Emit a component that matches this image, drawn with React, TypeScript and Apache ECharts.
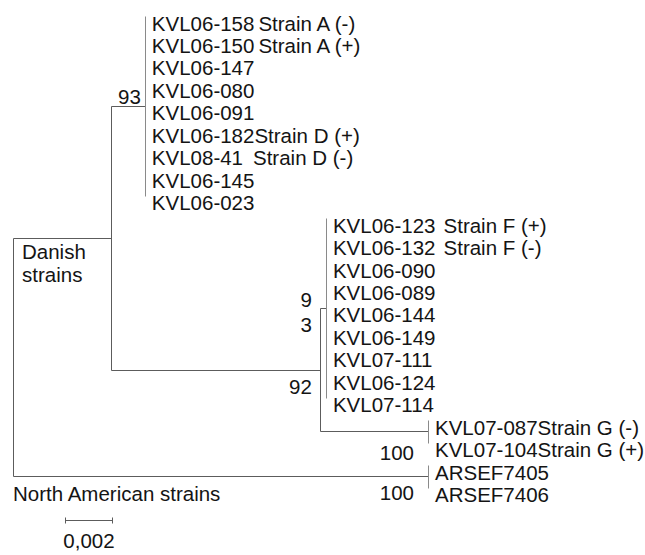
import React, { useEffect, useRef } from "react";
import * as echarts from "echarts";

// ---------- DATA ----------
// internal nodes of the tree (branch length in substitutions/site)
const nodeNames = ["root", "Danish", "A", "FG", "F", "G", "NA"];
const nodeParents: (string | null)[] = [null, "root", "Danish", "Danish", "FG", "FG", "root"];
const nodeLengths = [0, 0.00421, 0.00146, 0.00899, 0.00026, 0.00465, 0.01785];
const nodeSupport = ["", "", "93", "92", "9\n3", "100", "100"];

// tips (leaves), top to bottom
const tipNames = [
  "KVL06-158", "KVL06-150", "KVL06-147", "KVL06-080", "KVL06-091", "KVL06-182", "KVL08-41", "KVL06-145", "KVL06-023",
  "KVL06-123", "KVL06-132", "KVL06-090", "KVL06-089", "KVL06-144", "KVL06-149", "KVL07-111", "KVL06-124", "KVL07-114",
  "KVL07-087", "KVL07-104", "ARSEF7405", "ARSEF7406",
];
const tipParents = [
  "A", "A", "A", "A", "A", "A", "A", "A", "A",
  "F", "F", "F", "F", "F", "F", "F", "F", "F",
  "G", "G", "NA", "NA",
];
const tipLengths = tipNames.map(() => 0);
const tipNotes = [
  "Strain A (-)", "Strain A (+)", "", "", "", "Strain D (+)", "Strain D (-)", "", "",
  "Strain F (+)", "Strain F (-)", "", "", "", "", "", "", "",
  "Strain G (-)", "Strain G (+)", "", "",
];

const cladeLabelNodes = ["Danish", "NA"];
const cladeLabelTexts = ["Danish\nstrains", "North American strains"];

const scaleBarLength = 0.002;
const scaleBarText = "0,002";

// ---------- STYLE / LAYOUT ----------
const FONT = "Liberation Sans, Arial, Helvetica, sans-serif";
const TEXT_COLOR = "#141414";
const LINE_COLOR = "#5c5c5c";
const TIP_LINE_COLOR = "#8a8a8a";
const FONT_SIZE = 20.5;
const X_MAX = 0.026;
const Y_MAX = 24;
const PX_PER_UNIT = 23250;
const ROW_PX = 22.7;
const SCALE_BAR_X = 0.00224;
const SCALE_BAR_ROW = 22.45;

// gap (px) between tip name and its strain note
const noteGap: Record<string, number> = {
  "KVL06-158": 4, "KVL06-150": 4, "KVL06-182": 0, "KVL08-41": 10,
  "KVL06-123": 8, "KVL06-132": 8, "KVL07-087": 0, "KVL07-104": 0,
};
// support label placement relative to node (px)
const supportOffset: Record<string, [number, number]> = {
  A: [-4, -9], F: [-14, 4.5], FG: [-8, 17], G: [-14, 21], NA: [-14, 16],
};
const cladeOffset: Record<string, { dx: number; dy: number; fromParent: boolean; va: string }> = {
  Danish: { dx: 9, dy: 2, fromParent: true, va: "top" },
  NA: { dx: 0, dy: 17, fromParent: true, va: "middle" },
};

// ---------- LAYOUT COMPUTATION ----------
type P = { x: number; y: number; parent: string | null };
function computeLayout() {
  const pos: Record<string, P> = {};
  const children: Record<string, string[]> = {};
  nodeNames.forEach((n, i) => {
    const p = nodeParents[i];
    if (p) (children[p] = children[p] || []).push(n);
  });
  tipNames.forEach((t, i) => {
    (children[tipParents[i]] = children[tipParents[i]] || []).push(t);
  });
  const lenOf: Record<string, number> = {};
  const parentOf: Record<string, string | null> = {};
  nodeNames.forEach((n, i) => { lenOf[n] = nodeLengths[i]; parentOf[n] = nodeParents[i]; });
  tipNames.forEach((t, i) => { lenOf[t] = tipLengths[i]; parentOf[t] = tipParents[i]; });
  const tipIndex: Record<string, number> = {};
  tipNames.forEach((t, i) => (tipIndex[t] = i));
  const place = (n: string, px: number) => {
    const x = px + lenOf[n];
    let y: number;
    if (n in tipIndex) y = tipIndex[n];
    else {
      const ys = (children[n] || []).map((c) => place(c, x));
      y = (Math.min(...ys) + Math.max(...ys)) / 2;
    }
    pos[n] = { x, y, parent: parentOf[n] };
    return y;
  };
  place("root", 0);
  const edges: { seg: number[]; tip: boolean }[] = [];
  Object.keys(pos).forEach((n) => {
    const p = pos[n];
    if (p.parent) {
      const pp = pos[p.parent];
      if (p.x - pp.x > 1e-9) edges.push({ seg: [pp.x, p.y, p.x, p.y], tip: false });
    }
    const ch = children[n];
    if (ch && ch.length) {
      const ys = ch.map((c) => pos[c].y);
      const allTips = ch.every((c) => c in tipIndex);
      edges.push({ seg: [p.x, Math.min(...ys), p.x, Math.max(...ys)], tip: allTips });
    }
  });
  return { pos, edges };
}

export default function App() {
  const ref = useRef<HTMLDivElement>(null);
  useEffect(() => {
    if (!ref.current) return;
    const chart = echarts.init(ref.current, null, { renderer: "svg" });
    const { pos, edges } = computeLayout();

    const edgeData = edges.map((e) => ({ value: e.seg, tip: e.tip }));
    const tipData = tipNames.map((t, i) => [pos[t].x, pos[t].y, i]);
    const supportData = nodeNames
      .map((n, i) => [pos[n].x, pos[n].y, i])
      .filter((d) => nodeSupport[d[2]] !== "");
    const cladeData = cladeLabelNodes.map((n, i) => {
      const o = cladeOffset[n];
      const ref = o.fromParent && pos[n].parent ? pos[pos[n].parent as string] : pos[n];
      return [ref.x, pos[n].y, i];
    });

    const gridWidth = X_MAX * PX_PER_UNIT;
    const gridHeight = Y_MAX * ROW_PX;

    chart.setOption({
      animation: false,
      backgroundColor: "#ffffff",
      grid: { left: 13, top: 16, width: gridWidth, height: gridHeight },
      xAxis: { type: "value", min: 0, max: X_MAX, show: false },
      yAxis: { type: "value", min: 0, max: Y_MAX, inverse: true, show: false },
      series: [
        {
          type: "custom",
          name: "branches",
          coordinateSystem: "cartesian2d",
          encode: { x: [0, 2], y: [1, 3] },
          data: edgeData,
          renderItem: (params: any, api: any) => {
            const a = api.coord([api.value(0), api.value(1)]);
            const b = api.coord([api.value(2), api.value(3)]);
            const isTip = edgeData[params.dataIndex].tip;
            return {
              type: "line",
              shape: { x1: Math.round(a[0]) + 0.5, y1: Math.round(a[1]) + 0.5, x2: Math.round(b[0]) + 0.5, y2: Math.round(b[1]) + 0.5 },
              style: { stroke: isTip ? TIP_LINE_COLOR : LINE_COLOR, lineWidth: 1 },
            };
          },
        },
        {
          type: "custom",
          name: "tips",
          coordinateSystem: "cartesian2d",
          encode: { x: 0, y: 1 },
          data: tipData,
          renderItem: (params: any, api: any) => {
            const i = api.value(2);
            const p = api.coord([api.value(0), api.value(1)]);
            const name = tipNames[i];
            const note = tipNotes[i];
            const text = note ? `{n|${name}}{g|}{n|${note}}` : `{n|${name}}`;
            return {
              type: "text",
              x: p[0] + 7,
              y: p[1] + 7,
              style: {
                text,
                align: "left",
                verticalAlign: "middle",
                rich: {
                  n: { fontSize: FONT_SIZE, fontFamily: FONT, fill: TEXT_COLOR, color: TEXT_COLOR },
                  g: { width: noteGap[name] ?? 5, height: 1 },
                },
              },
            };
          },
        },
        {
          type: "custom",
          name: "support",
          coordinateSystem: "cartesian2d",
          encode: { x: 0, y: 1 },
          data: supportData,
          renderItem: (params: any, api: any) => {
            const i = api.value(2);
            const p = api.coord([api.value(0), api.value(1)]);
            const off = supportOffset[nodeNames[i]] || [0, 0];
            return {
              type: "text",
              x: p[0] + off[0],
              y: p[1] + off[1],
              style: {
                text: nodeSupport[i],
                align: "right",
                verticalAlign: "middle",
                fontSize: FONT_SIZE,
                fontFamily: FONT,
                lineHeight: 25,
                fill: TEXT_COLOR,
              },
            };
          },
        },
        {
          type: "custom",
          name: "clades",
          coordinateSystem: "cartesian2d",
          encode: { x: 0, y: 1 },
          data: cladeData,
          renderItem: (params: any, api: any) => {
            const i = api.value(2);
            const p = api.coord([api.value(0), api.value(1)]);
            const o = cladeOffset[cladeLabelNodes[i]];
            return {
              type: "text",
              x: p[0] + o.dx,
              y: p[1] + o.dy,
              style: {
                text: cladeLabelTexts[i],
                align: "left",
                verticalAlign: o.va,
                fontSize: FONT_SIZE,
                fontFamily: FONT,
                lineHeight: 23,
                fill: TEXT_COLOR,
              },
            };
          },
        },
        {
          type: "custom",
          name: "scale",
          coordinateSystem: "cartesian2d",
          encode: { x: [0, 1], y: 2 },
          data: [[SCALE_BAR_X, SCALE_BAR_X + scaleBarLength, SCALE_BAR_ROW]],
          renderItem: (params: any, api: any) => {
            const a = api.coord([api.value(0), api.value(2)]);
            const b = api.coord([api.value(1), api.value(2)]);
            const y = Math.round(a[1]) + 0.5;
            const x1 = Math.round(a[0]) + 0.5;
            const x2 = Math.round(b[0]) + 0.5;
            const st = { stroke: LINE_COLOR, lineWidth: 1 };
            return {
              type: "group",
              children: [
                { type: "line", shape: { x1, y1: y, x2, y2: y }, style: st },
                { type: "line", shape: { x1, y1: y - 3, x2: x1, y2: y + 3 }, style: st },
                { type: "line", shape: { x1: x2, y1: y - 3, x2, y2: y + 3 }, style: st },
                {
                  type: "text",
                  x: (x1 + x2) / 2,
                  y: y + 20,
                  style: {
                    text: scaleBarText,
                    align: "center",
                    verticalAlign: "middle",
                    fontSize: FONT_SIZE,
                    fontFamily: FONT,
                    fill: TEXT_COLOR,
                  },
                },
              ],
            };
          },
        },
      ],
    });
    return () => chart.dispose();
  }, []);
  return (
    <div
      ref={ref}
      style={{ position: "absolute", left: 0, top: 0, width: 645, height: 555, background: "#fff" }}
    />
  );
}
